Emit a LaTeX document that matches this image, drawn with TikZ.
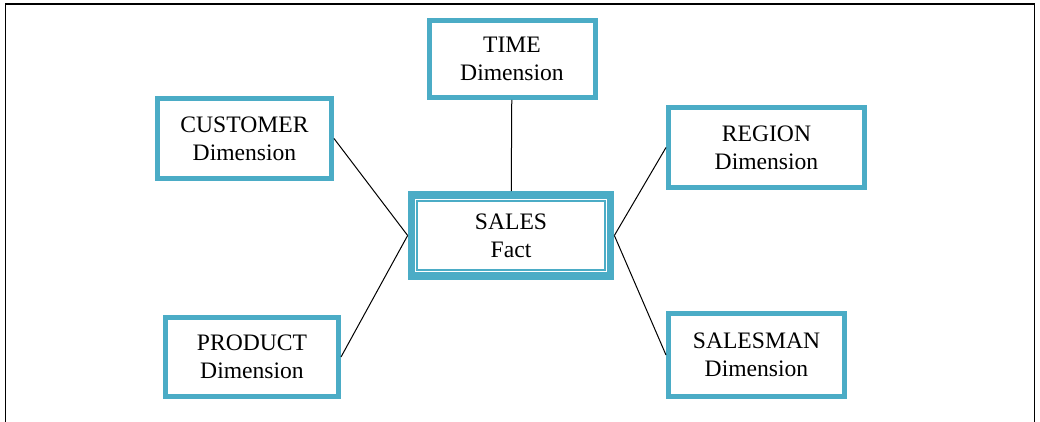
\documentclass[tikz,border=0pt]{standalone}
\usepackage{fontspec}
\setmainfont{Liberation Serif}
\usepackage{tikz}
\usetikzlibrary{calc}
\definecolor{dimblue}{HTML}{4BACC6}

\begin{document}
\begin{tikzpicture}[x=0.5pt,y=-0.5pt,line width=.5pt,
    dim/.style={draw=dimblue,line width=2.5pt,fill=white,align=center,
                font=\fontsize{11.8}{14}\selectfont,inner sep=0pt},
    fact/.style={dim,line width=3.85pt}]

      \useasboundingbox (0,0) rectangle (1040,422);
      \draw[line width=.7pt,black] (5.5,422) -- (5.5,4) -- (1034.5,4) -- (1034.5,422);

      \path (512,59)      node[dim,minimum width=83pt,minimum height=38.5pt] (time)     {TIME\\Dimension};
      \path (244.5,138.5) node[dim,minimum width=87pt,minimum height=40pt]   (customer) {CUSTOMER\\Dimension};
      \path (766.5,147.5) node[dim,minimum width=98pt,minimum height=40pt]   (region)   {REGION\\Dimension};
      \path (252,357)     node[dim,minimum width=86.5pt,minimum height=39.5pt] (product) {PRODUCT\\Dimension};
      \path (756.5,355)   node[dim,minimum width=88pt,minimum height=41.5pt] (salesman) {SALESMAN\\Dimension};
      \path (511,235.5)   node[fact,minimum width=99.5pt,minimum height=40.5pt] (sales) {SALES\\Fact};
      \draw[dimblue,line width=1pt] ($(sales.north west)+(9.6,9.6)$) rectangle ($(sales.south east)+(-9.6,-9.6)$);

      \draw (time)     -- (sales);
      \draw (customer.east) -- (sales.west);
      \draw (product.east)  -- (sales.west);
      \draw (region.west)   -- (sales.east);
      \draw (salesman.west) -- (sales.east);

    \end{tikzpicture}
\end{document}
